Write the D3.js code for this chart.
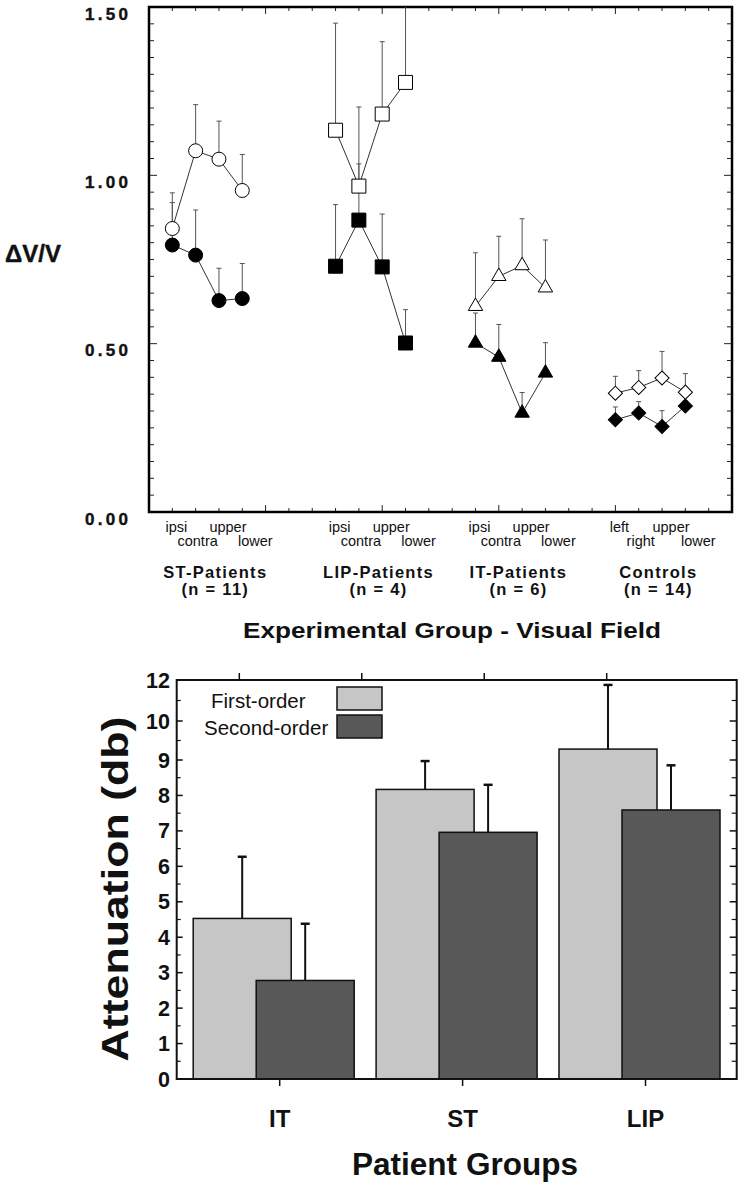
<!DOCTYPE html>
<html><head><meta charset="utf-8">
<script src="https://cdn.jsdelivr.net/npm/d3@7"></script>
<style>body{margin:0;background:#fff} text{font-family:"Liberation Sans",Arial,Helvetica,sans-serif;fill:#111}</style>
</head><body><svg id="c" width="745" height="1199"></svg>
<script>
// ---------- Top chart data ----------
const groups = ["ST-Patients","LIP-Patients","IT-Patients","Controls"];
const groupN = ["(n = 11)","(n = 4)","(n = 6)","(n = 14)"];
const groupSlots = [[1,2,3,4],[8,9,10,11],[14,15,16,17],[20,21,22,23]];
const fieldLabels = [["ipsi","contra","upper","lower"],["ipsi","contra","upper","lower"],["ipsi","contra","upper","lower"],["left","right","upper","lower"]];
const firstOrderMean  = [[0.842,1.073,1.048,0.955],[1.134,0.968,1.182,1.276],[0.611,0.700,0.732,0.666],[0.353,0.370,0.398,0.356]];
const firstOrderUpper = [[0.948,1.210,1.161,1.062],[1.452,1.203,1.397,1.600],[0.770,0.819,0.871,0.808],[0.403,0.420,0.477,0.411]];
const secondOrderMean  = [[0.793,0.763,0.628,0.634],[0.730,0.867,0.728,0.502],[0.502,0.460,0.294,0.413],[0.274,0.294,0.254,0.315]];
const secondOrderUpper = [[0.919,0.897,0.724,0.738],[0.913,1.034,0.885,0.601],[0.591,0.557,0.355,0.503],[0.312,0.328,0.301,0.330]];
const markerShapes = ["circle","square","triangle","diamond"];
const yTopTickLabels = [0, 0.5, 1.0, 1.5];

// ---------- Bottom chart data ----------
const patientGroups = ["IT","ST","LIP"];
const firstOrderAtt  = [4.53, 8.17, 9.28];
const firstOrderErr  = [6.27, 8.97, 11.76];
const secondOrderAtt = [2.78, 6.96, 7.59];
const secondOrderErr = [4.38, 8.30, 8.85];
const yBottomTickLabels = [0,1,2,3,4,5,6,7,8,9,10,12];
const seriesNames = ["First-order","Second-order"];

const svg = d3.select("#c");
svg.append("rect").attr("width",745).attr("height",1199).attr("fill","#fff");

// ================= TOP CHART =================
const xT = d3.scaleLinear().domain([0,25]).range([149,732]);
const yT = d3.scaleLinear().domain([0,1.5]).range([512,7]);
const gTop = svg.append("g");

gTop.append("clipPath").attr("id","clipT").append("rect")
  .attr("x",xT(0)).attr("y",yT(1.5)).attr("width",xT(25)-xT(0)).attr("height",yT(0)-yT(1.5));

const xTicks = d3.range(1,25);
xTicks.forEach(t=>{
  const L = t%5===0 ? 7 : 4;
  gTop.append("line").attr("x1",xT(t)).attr("x2",xT(t)).attr("y1",yT(1.5)).attr("y2",yT(1.5)+L).attr("stroke","#222").attr("stroke-width",1);
  gTop.append("line").attr("x1",xT(t)).attr("x2",xT(t)).attr("y1",yT(0)).attr("y2",yT(0)-L).attr("stroke","#222").attr("stroke-width",1);
});
const yTicks = d3.range(1,30).map(i=>i*0.05);
yTicks.forEach((t,i)=>{
  const L = (i+1)%10===0 ? 8 : 5;
  gTop.append("line").attr("x1",xT(0)).attr("x2",xT(0)+L).attr("y1",yT(t)).attr("y2",yT(t)).attr("stroke","#222").attr("stroke-width",1);
  gTop.append("line").attr("x1",xT(25)).attr("x2",xT(25)-L).attr("y1",yT(t)).attr("y2",yT(t)).attr("stroke","#222").attr("stroke-width",1);
});
gTop.append("rect").attr("x",xT(0)).attr("y",yT(1.5)).attr("width",xT(25)-xT(0)).attr("height",yT(0)-yT(1.5))
  .attr("fill","none").attr("stroke","#000").attr("stroke-width",2.5);

yTopTickLabels.forEach(v=>{
  gTop.append("text").attr("x",128).attr("y",yT(v)+12.5).attr("text-anchor","end")
    .attr("font-size",17).attr("font-weight","bold").attr("stroke","#111").attr("stroke-width",0.4)
    .attr("textLength",43).attr("lengthAdjust","spacing")
    .text(v.toFixed(2));
});
gTop.append("text").attr("x",5).attr("y",262).attr("font-size",24).attr("font-weight","bold").attr("stroke","#111").attr("stroke-width",0.4).text("\u0394V/V");

const plot = gTop.append("g").attr("clip-path","url(#clipT)");
function sym(shape){
  if(shape==="circle") return d3.symbol(d3.symbolCircle, Math.PI*49)();
  if(shape==="square") return d3.symbol(d3.symbolSquare, 196)();
  if(shape==="triangle") return d3.symbol(d3.symbolTriangle, 90)();
  return d3.symbol(d3.symbolSquare, 100)();
}
groups.forEach((g,gi)=>{
  [[firstOrderMean,firstOrderUpper],[secondOrderMean,secondOrderUpper]].forEach(([m,u])=>{
    groupSlots[gi].forEach((s,k)=>{
      plot.append("line").attr("x1",xT(s)).attr("x2",xT(s)).attr("y1",yT(m[gi][k])).attr("y2",yT(u[gi][k]))
        .attr("stroke","#555").attr("stroke-width",1);
      plot.append("line").attr("x1",xT(s)-2.5).attr("x2",xT(s)+2.5).attr("y1",yT(u[gi][k])).attr("y2",yT(u[gi][k]))
        .attr("stroke","#555").attr("stroke-width",1);
    });
  });
});
const lineGen = d3.line().x(d=>xT(d[0])).y(d=>yT(d[1]));
groups.forEach((g,gi)=>{
  [secondOrderMean, firstOrderMean].forEach(m=>{
    plot.append("path").attr("d",lineGen(groupSlots[gi].map((s,k)=>[s,m[gi][k]])))
      .attr("fill","none").attr("stroke","#333").attr("stroke-width",1);
  });
});
groups.forEach((g,gi)=>{
  [[secondOrderMean,"#000"],[firstOrderMean,"#fff"]].forEach(([m,fill])=>{
    groupSlots[gi].forEach((s,k)=>{
      const rot = markerShapes[gi]==="diamond" ? " rotate(45)" : "";
      plot.append("path").attr("d",sym(markerShapes[gi]))
        .attr("transform",`translate(${xT(s)},${yT(m[gi][k])})${rot}`)
        .attr("fill",fill).attr("stroke","#000").attr("stroke-width",1);
    });
  });
});

const labelOff = [4,2,9,13];
groups.forEach((g,gi)=>{
  groupSlots[gi].forEach((s,k)=>{
    gTop.append("text").attr("x",xT(s)+labelOff[k]).attr("y",k%2===0?532:546)
      .attr("text-anchor","middle").attr("font-size",14.5).text(fieldLabels[gi][k]);
  });
  const mid = d3.mean(groupSlots[gi]);
  gTop.append("text").attr("x",xT(mid)+8).attr("y",578).attr("text-anchor","middle")
    .attr("font-size",16.5).attr("font-weight","bold").attr("letter-spacing",1.3).text(g);
  gTop.append("text").attr("x",xT(mid)+8).attr("y",595).attr("text-anchor","middle")
    .attr("font-size",16.5).attr("font-weight","bold").attr("letter-spacing",1.3).style("white-space","pre").text(groupN[gi]);
});
gTop.append("text").attr("x",452).attr("y",638).attr("text-anchor","middle").attr("font-size",22.5).attr("font-weight","bold")
  .attr("textLength",418).attr("lengthAdjust","spacingAndGlyphs").text("Experimental Group - Visual Field");

// ================= BOTTOM CHART =================
const bx0 = 176.7, bx1 = 736.7;
const yB = d3.scaleLinear().domain([0,9,10,12]).range([1079,760,721,680]);
const xB = d3.scalePoint().domain(patientGroups).range([273.7,639.5]);
const xTopTick = d3.scaleLinear().domain([1,4]).range([239.3,606.7]);
const gBot = svg.append("g");
const barW = 98, off = 31.5;
const fills = ["#c6c6c6","#585858"];

patientGroups.forEach((g,i)=>{
  [[firstOrderAtt,firstOrderErr,-off,0],[secondOrderAtt,secondOrderErr,off,1]].forEach(([v,e,o,si])=>{
    const cx = xB(g)+o;
    gBot.append("line").attr("x1",cx).attr("x2",cx).attr("y1",yB(v[i])).attr("y2",yB(e[i])).attr("stroke","#111").attr("stroke-width",2);
    gBot.append("line").attr("x1",cx-4.5).attr("x2",cx+4.5).attr("y1",yB(e[i])).attr("y2",yB(e[i])).attr("stroke","#111").attr("stroke-width",2.5);
    gBot.append("rect").attr("x",cx-barW/2).attr("y",yB(v[i])).attr("width",barW).attr("height",yB(0)-yB(v[i]))
      .attr("fill",fills[si]).attr("stroke","#111").attr("stroke-width",1.5);
  });
});

const minorB = d3.range(0.5,10,1).concat([11]);
yBottomTickLabels.forEach(t=>{
  gBot.append("line").attr("x1",bx0).attr("x2",bx0+6).attr("y1",yB(t)).attr("y2",yB(t)).attr("stroke","#111").attr("stroke-width",1.5);
  gBot.append("line").attr("x1",bx1).attr("x2",bx1-7).attr("y1",yB(t)).attr("y2",yB(t)).attr("stroke","#111").attr("stroke-width",1.5);
  gBot.append("text").attr("x",170).attr("y",yB(t)+7.5).attr("text-anchor","end").attr("font-size",21.5).attr("font-weight","bold").text(t);
});
minorB.forEach(t=>{
  gBot.append("line").attr("x1",bx0).attr("x2",bx0+4).attr("y1",yB(t)).attr("y2",yB(t)).attr("stroke","#111").attr("stroke-width",1.2);
  gBot.append("line").attr("x1",bx1).attr("x2",bx1-5).attr("y1",yB(t)).attr("y2",yB(t)).attr("stroke","#111").attr("stroke-width",1.2);
});
[1,2,3,4].forEach(t=>{
  gBot.append("line").attr("x1",xTopTick(t)).attr("x2",xTopTick(t)).attr("y1",yB(12)).attr("y2",yB(12)-7).attr("stroke","#111").attr("stroke-width",1.5);
});
patientGroups.forEach(g=>{
  gBot.append("line").attr("x1",xB(g)+6).attr("x2",xB(g)+6).attr("y1",yB(0)).attr("y2",yB(0)+7).attr("stroke","#111").attr("stroke-width",1.5);
  gBot.append("text").attr("x",xB(g)+6).attr("y",1127).attr("text-anchor","middle").attr("font-size",24).attr("font-weight","bold").text(g);
});
gBot.append("rect").attr("x",bx0).attr("y",yB(12)).attr("width",bx1-bx0).attr("height",yB(0)-yB(12))
  .attr("fill","none").attr("stroke","#111").attr("stroke-width",2);

seriesNames.forEach((n,i)=>{
  gBot.append("rect").attr("x",337).attr("y",687+i*28).attr("width",45).attr("height",23)
    .attr("fill",fills[i]).attr("stroke","#111").attr("stroke-width",1.5);
  gBot.append("text").attr("x",i===0?211:204).attr("y",708+i*27).attr("font-size",20.5).text(n);
});

gBot.append("text").attr("transform","translate(128,889) rotate(-90)").attr("text-anchor","middle")
  .attr("font-size",37).attr("font-weight","bold").attr("textLength",345).attr("lengthAdjust","spacingAndGlyphs").text("Attenuation (db)");
gBot.append("text").attr("x",465).attr("y",1175).attr("text-anchor","middle")
  .attr("font-size",31).attr("font-weight","bold").attr("textLength",226).attr("lengthAdjust","spacingAndGlyphs").text("Patient Groups");
</script></body></html>
